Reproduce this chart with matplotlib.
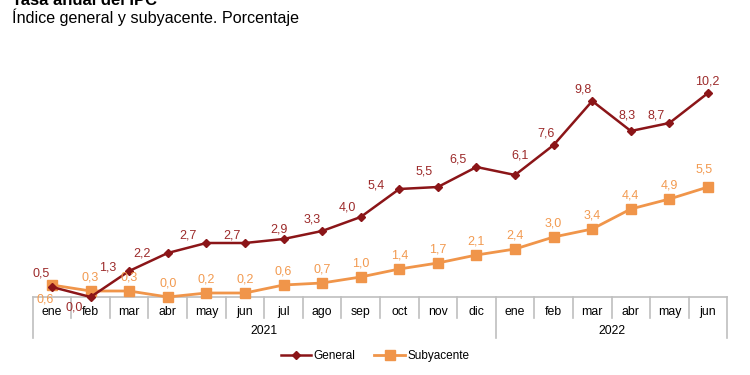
import matplotlib
matplotlib.use("Agg")
import matplotlib.pyplot as plt

plt.rcParams['font.family'] = ['Liberation Sans', 'DejaVu Sans']

months = ["ene", "feb", "mar", "abr", "may", "jun", "jul", "ago", "sep", "oct", "nov", "dic",
          "ene", "feb", "mar", "abr", "may", "jun"]
years = ["2021", "2022"]
year_counts = [12, 6]
general = [0.5, 0.0, 1.3, 2.2, 2.7, 2.7, 2.9, 3.3, 4.0, 5.4, 5.5, 6.5,
           6.1, 7.6, 9.8, 8.3, 8.7, 10.2]
subyacente = [0.6, 0.3, 0.3, 0.0, 0.2, 0.2, 0.6, 0.7, 1.0, 1.4, 1.7, 2.1,
              2.4, 3.0, 3.4, 4.4, 4.9, 5.5]

# label offsets in pixels (dx, dy)
gen_off = [(-11, 13), (-16, -10), (-21, 4), (-26, -1), (-18, 8), (-13, 8), (-5, 10), (-10, 12),
           (-13, 9), (-23, 4), (-14, 15), (-18, 7), (5, 19), (-8, 12), (-9, 12), (-4, 16),
           (-13, 7), (-1, 12)]
sub_off = [(-7, -15)] + [(0, 14)] * 16 + [(-4, 17)]

C_GEN = "#8B1518"
C_GEN_TXT = "#9C2A2A"
C_SUB = "#F0954A"
C_SUB_TXT = "#F29A50"
C_GRID = "#BFBFBF"

fig = plt.figure(figsize=(7.5, 3.75), dpi=100)
W, H = 750, 375
x0, x1 = 32.7, 727.3
ybot, ytop = 297, 57
ax = fig.add_axes([x0 / W, 1 - ybot / H, (x1 - x0) / W, (ybot - ytop) / H])

x = list(range(len(months)))
ax.plot(x, subyacente, color=C_SUB, lw=2.0, marker="s", ms=6.5, clip_on=False,
        zorder=3, label="Subyacente")
ax.plot(x, general, color=C_GEN, lw=1.8, marker="D", ms=4, clip_on=False,
        zorder=4, label="General")

def fmt(v):
    return f"{v:.1f}".replace(".", ",")

for i, v in enumerate(general):
    ax.annotate(fmt(v), (i, v), xytext=gen_off[i], textcoords="offset pixels",
                ha="center", va="center", fontsize=9, color=C_GEN_TXT, zorder=5)
for i, v in enumerate(subyacente):
    ax.annotate(fmt(v), (i, v), xytext=sub_off[i], textcoords="offset pixels",
                ha="center", va="center", fontsize=9, color=C_SUB_TXT, zorder=5)

ax.set_xlim(-0.5, len(months) - 0.5)
ax.set_ylim(0, 12)
for s in ["left", "right", "top"]:
    ax.spines[s].set_visible(False)
ax.spines["bottom"].set_color(C_GRID)
ax.spines["bottom"].set_linewidth(1.2)
ax.set_yticks([])
ax.set_xticks([])

trans = ax.get_xaxis_transform()
hpx = ybot - ytop
short = -21 / hpx
long_ = -41 / hpx
boundaries = [i - 0.5 for i in range(len(months) + 1)]
year_bounds = [-0.5]
acc = -0.5
for c in year_counts:
    acc += c
    year_bounds.append(acc)
for b in boundaries:
    yl = long_ if b in year_bounds else short
    ax.plot([b, b], [0, yl], transform=trans, color=C_GRID, lw=1.2, clip_on=False)

for i, m in enumerate(months):
    ax.text(i, -15 / hpx, m, transform=trans, ha="center", va="center", fontsize=8.8,
            color="#000000")
start = -0.5
for yname, c in zip(years, year_counts):
    ax.text(start + c / 2, -34 / hpx, yname, transform=trans, ha="center", va="center",
            fontsize=8.8, color="#000000")
    start += c

fig.text(12 / W, 1 - 5 / H, "Tasa anual del IPC", ha="left", va="baseline",
         fontsize=12, fontweight="bold")
fig.text(12 / W, 1 - 23 / H, "Índice general y subyacente. Porcentaje", ha="left",
         va="baseline", fontsize=11.6)

h, l = ax.get_legend_handles_labels()
fig.legend([h[1], h[0]], [l[1], l[0]], loc="center", bbox_to_anchor=(0.5, 1 - 356 / H),
           ncol=2, frameon=False, fontsize=8.5, handlelength=2.6, columnspacing=1.6,
           handletextpad=0.2)

fig.savefig("out.png", dpi=100)
